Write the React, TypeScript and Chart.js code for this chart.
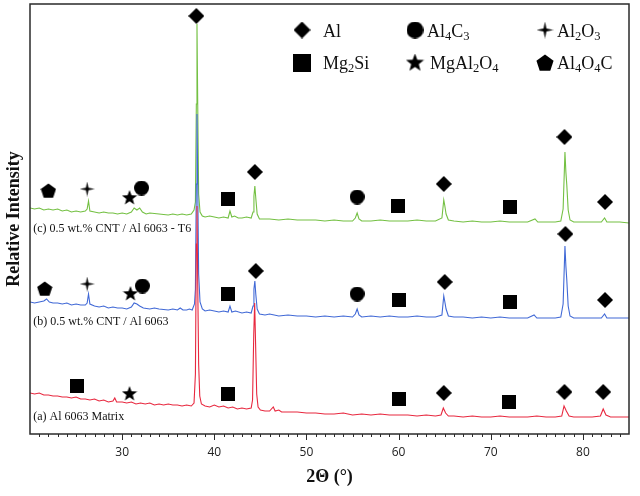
import { useEffect, useRef } from 'react'
import { Chart, registerables } from 'chart.js'

Chart.register(...registerables)

// XRD traces, [2θ, offset intensity]
const traceA: [number, number][] = [
  [20, 41], [20.5, 40], [21, 41], [21.5, 39], [22, 39], [22.5, 38], [23, 38], [23.5, 37], [24, 37], [24.5, 36],
  [25, 37], [25.5, 35], [26, 35], [26.5, 34], [27, 35], [27.5, 33], [28, 34], [28.5, 32], [29, 33], [29.2, 36],
  [29.4, 32], [30, 32], [30.5, 31], [31, 32], [31.5, 30], [32, 31], [32.5, 30], [33, 31], [33.5, 29], [34, 30],
  [34.5, 29], [35, 30], [35.5, 29], [36, 29], [36.5, 28], [37, 29], [37.5, 28], [37.8, 31], [37.95, 60], [38.05, 190],
  [38.12, 228], [38.2, 150], [38.3, 70], [38.42, 38], [38.6, 30], [39, 28], [39.5, 27], [40, 29], [40.5, 27], [41, 28],
  [41.5, 26], [42, 27], [42.5, 25], [43, 26], [43.5, 25], [44, 26], [44.15, 34], [44.28, 100], [44.38, 131], [44.48, 90],
  [44.6, 40], [44.75, 27], [45, 24], [45.5, 23], [46, 23], [46.4, 27], [46.6, 23], [47, 24], [47.3, 22], [48, 22],
  [49, 22], [50, 21], [51, 21], [52, 20], [53, 20], [54, 21], [55, 19], [56, 20], [57, 19], [58, 20],
  [59, 19], [60, 19], [61, 19], [62, 18], [63, 19], [64, 18], [64.6, 19], [64.85, 26], [65.1, 21], [65.4, 18],
  [66, 18], [67, 17], [68, 18], [69, 17], [70, 17], [71, 18], [72, 17], [73, 17], [74, 17], [75, 18],
  [76, 17], [77, 17], [77.7, 18], [77.95, 28], [78.2, 23], [78.5, 18], [79, 17], [80, 17], [81, 17], [81.9, 18],
  [82.2, 25], [82.5, 19], [83, 17], [84, 17], [85, 17],
]

const traceB: [number, number][] = [
  [20, 132], [20.5, 131], [21, 132], [21.5, 133], [21.8, 135], [22.1, 132], [22.5, 131], [23, 131], [23.5, 130], [24, 131],
  [24.5, 129], [25, 130], [25.5, 129], [26, 129], [26.2, 131], [26.35, 140], [26.5, 130], [27, 128], [27.5, 127], [28, 128],
  [28.5, 126], [29, 127], [29.5, 126], [30, 126], [30.5, 125], [31, 127], [31.3, 131], [31.6, 130], [31.9, 128], [32.3, 126],
  [33, 125], [33.5, 126], [34, 125], [35, 124], [35.5, 125], [36, 124], [36.3, 126], [36.6, 124], [37, 124], [37.3, 125],
  [37.6, 124], [37.85, 130], [37.95, 145], [38.05, 250], [38.12, 320], [38.2, 250], [38.3, 160], [38.45, 132], [38.7, 125], [39, 123],
  [39.5, 124], [40, 123], [40.5, 122], [41, 123], [41.5, 122], [41.7, 128], [41.9, 122], [42.3, 123], [43, 121], [43.5, 122],
  [44, 121], [44.2, 128], [44.3, 145], [44.4, 153], [44.5, 140], [44.65, 125], [44.9, 120], [45.5, 119], [46, 120], [47, 118],
  [48, 119], [49, 118], [50, 118], [51, 117], [52, 118], [53, 117], [54, 118], [55, 117], [55.3, 120], [55.5, 125],
  [55.7, 119], [56, 117], [57, 118], [58, 117], [59, 118], [60, 117], [61, 117], [62, 118], [63, 117], [64, 117],
  [64.7, 119], [64.9, 138], [65.0, 133], [65.15, 125], [65.4, 118], [66, 117], [67, 117], [68, 116], [69, 117], [70, 116],
  [71, 117], [72, 116], [73, 116], [74, 116], [74.7, 119], [75, 116], [76, 116], [77, 116], [77.6, 117], [77.85, 130],
  [78.05, 188], [78.15, 168], [78.25, 154], [78.4, 128], [78.6, 118], [79, 116], [80, 116], [81, 116], [82, 116], [82.35, 120],
  [82.6, 116], [83, 116], [84, 116], [85, 116],
]

const traceC: [number, number][] = [
  [20, 226], [20.5, 225], [21, 226], [21.5, 224], [22, 225], [22.5, 224], [23, 225], [23.5, 223], [24, 224], [24.5, 222],
  [25, 223], [25.5, 222], [26, 223], [26.2, 225], [26.35, 233], [26.5, 223], [27, 222], [27.5, 221], [28, 222], [28.5, 221],
  [29, 221], [29.5, 220], [30, 221], [30.5, 220], [31, 222], [31.3, 226], [31.6, 224], [31.9, 226], [32.2, 222], [32.6, 220],
  [33, 221], [34, 220], [35, 219], [35.5, 220], [36, 219], [36.5, 220], [37, 219], [37.5, 220], [37.8, 224], [37.95, 232],
  [38.05, 330], [38.12, 410], [38.2, 330], [38.3, 240], [38.45, 222], [38.7, 218], [39, 217], [39.5, 218], [40, 217], [40.5, 216],
  [41, 217], [41.5, 216], [41.7, 223], [41.9, 217], [42.2, 218], [42.6, 216], [43, 216], [43.5, 217], [44, 216], [44.2, 222],
  [44.3, 238], [44.4, 248], [44.5, 236], [44.65, 220], [44.9, 215], [45.5, 215], [46, 215], [47, 214], [48, 215], [49, 214],
  [50, 214], [51, 214], [52, 213], [53, 214], [54, 213], [55, 213], [55.3, 216], [55.5, 221], [55.7, 215], [56, 213],
  [57, 213], [58, 214], [59, 213], [60, 213], [61, 213], [62, 214], [63, 213], [64, 213], [64.7, 216], [64.9, 234],
  [65.0, 229], [65.15, 220], [65.4, 214], [66, 213], [67, 212], [68, 213], [69, 212], [70, 212], [71, 213], [72, 212],
  [73, 212], [74, 212], [74.8, 215], [75.1, 212], [76, 212], [77, 212], [77.6, 213], [77.85, 225], [78.05, 282], [78.15, 262],
  [78.25, 249], [78.4, 224], [78.6, 214], [79, 212], [80, 212], [81, 212], [82, 212], [82.35, 216], [82.6, 212], [83, 212],
  [84, 212], [85, 211],
]

// phase markers
const alMarks: [number, number][] = [
  [38.05, 418], [44.4, 262], [64.9, 250], [78.0, 297], [82.4, 232],
  [44.5, 163], [65.0, 152], [78.1, 200], [82.4, 134],
  [64.9, 41], [78.0, 42], [82.2, 42],
]
const mg2siMarks: [number, number][] = [
  [41.5, 235], [59.9, 228], [72.1, 227],
  [41.5, 140], [60.0, 134], [72.1, 132],
  [25.1, 48], [41.5, 40], [60.0, 35], [72.0, 32],
]
const al4c3Marks: [number, number][] = [[32.1, 246], [55.5, 237], [32.2, 148], [55.5, 140]]
const mgal2o4Marks: [number, number][] = [[30.8, 236], [30.9, 140], [30.8, 40]]
const al2o3Marks: [number, number][] = [[26.2, 245], [26.2, 150]]
const al4o4cMarks: [number, number][] = [[22.0, 243], [21.6, 145]]

const phaseNames = ['Al', 'Al4C3', 'Al2O3', 'Mg2Si', 'MgAl2O4', 'Al4O4C']
const sampleLabels = ['(c) 0.5 wt.% CNT / Al 6063 - T6', '(b) 0.5 wt.% CNT / Al 6063', '(a) Al 6063 Matrix']
const sampleLabelY = [202, 109, 14]

const SERIF = '"Liberation Serif", "Times New Roman", serif'

function makeSymbol(kind: string, size: number): HTMLCanvasElement {
  const c = document.createElement('canvas')
  c.width = size
  c.height = size
  const ctx = c.getContext('2d')!
  const r = size / 2
  ctx.fillStyle = '#000'
  ctx.beginPath()
  if (kind === 'diamond') {
    ctx.moveTo(r, 0)
    ctx.lineTo(size, r)
    ctx.lineTo(r, size)
    ctx.lineTo(0, r)
  } else if (kind === 'square') {
    ctx.rect(0, 0, size, size)
  } else if (kind === 'circle') {
    ctx.arc(r, r, r, 0, Math.PI * 2)
  } else if (kind === 'star' || kind === 'sparkle') {
    const n = kind === 'star' ? 5 : 4
    const inner = kind === 'star' ? r * 0.42 : r * 0.24
    for (let i = 0; i < n * 2; i++) {
      const a = -Math.PI / 2 + (i * Math.PI) / n
      const rr = i % 2 === 0 ? r : inner
      ctx.lineTo(r + rr * Math.cos(a), r + rr * Math.sin(a))
    }
  } else if (kind === 'pentagon') {
    for (let i = 0; i < 5; i++) {
      const a = -Math.PI / 2 + (i * 2 * Math.PI) / 5
      ctx.lineTo(r + r * Math.cos(a), r * 1.05 + r * Math.sin(a))
    }
  }
  ctx.closePath()
  ctx.fill()
  return c
}

function drawFormula(ctx: CanvasRenderingContext2D, text: string, x: number, y: number) {
  let cx = x
  for (const part of text.split(/(\d)/)) {
    if (!part) continue
    const sub = /\d/.test(part)
    ctx.font = sub ? `12.5px ${SERIF}` : `18px ${SERIF}`
    ctx.fillText(part, cx, sub ? y + 3 : y)
    cx += ctx.measureText(part).width
  }
}

const App = () => {
  const canvasRef = useRef<HTMLCanvasElement>(null)
  const chartRef = useRef<Chart | null>(null)

  useEffect(() => {
    document.body.style.margin = '0'
    if (!canvasRef.current) return
    if (chartRef.current) chartRef.current.destroy()

    const plotSym = {
      diamond: makeSymbol('diamond', 16),
      square: makeSymbol('square', 14),
      circle: makeSymbol('circle', 15),
      star: makeSymbol('star', 16),
      sparkle: makeSymbol('sparkle', 15),
      pentagon: makeSymbol('pentagon', 16),
    }
    const legendSym = [
      makeSymbol('diamond', 17),
      makeSymbol('circle', 17),
      makeSymbol('sparkle', 17),
      makeSymbol('square', 18),
      makeSymbol('star', 19),
      makeSymbol('pentagon', 18),
    ]

    const decor = {
      id: 'xrdDecor',
      afterDatasetsDraw(chart: Chart) {
        const { ctx, chartArea: a, scales } = chart
        const xs = scales.x
        const ys = scales.y
        ctx.save()
        // frame
        ctx.strokeStyle = '#2a2a2a'
        ctx.lineWidth = 1.5
        ctx.strokeRect(a.left, a.top, a.right - a.left, a.bottom - a.top)
        // bottom ticks, minor every degree
        ctx.lineWidth = 1
        ctx.beginPath()
        for (let v = 21; v < 85; v++) {
          const px = Math.round(xs.getPixelForValue(v)) + 0.5
          ctx.moveTo(px, a.bottom)
          ctx.lineTo(px, a.bottom + (v % 10 === 0 ? 6 : 3))
        }
        ctx.stroke()
        // sample labels
        ctx.fillStyle = '#111'
        ctx.font = `12px ${SERIF}`
        ctx.textBaseline = 'alphabetic'
        sampleLabels.forEach((t, i) => {
          ctx.fillText(t, xs.getPixelForValue(20.35), ys.getPixelForValue(sampleLabelY[i]))
        })
        ctx.restore()
      },
      afterDraw(chart: Chart) {
        const { ctx } = chart
        const symX = [302, 415, 545]
        const textX = [323, 427, 557]
        const rowY = [30, 63]
        const baseY = [37, 69]
        ctx.save()
        ctx.fillStyle = '#111'
        ctx.textBaseline = 'alphabetic'
        phaseNames.forEach((name, i) => {
          const col = i % 3
          const row = Math.floor(i / 3)
          const s = legendSym[i]
          ctx.drawImage(s, symX[col] - s.width / 2, rowY[row] - s.height / 2)
          const tx = row === 1 && col === 1 ? textX[col] + 3 : textX[col]
          drawFormula(ctx, name, tx, baseY[row])
        })
        ctx.restore()
      },
    }

    const trace = (label: string, data: [number, number][], color: string) => ({
      label,
      data,
      showLine: true,
      borderColor: color,
      backgroundColor: color,
      borderWidth: 1.1,
      pointRadius: 0,
      tension: 0,
    })
    const marks = (label: string, data: [number, number][], sym: HTMLCanvasElement) => ({
      label,
      data,
      showLine: false,
      pointStyle: sym,
      pointRadius: 8,
      backgroundColor: '#000',
      borderColor: '#000',
    })

    chartRef.current = new Chart(canvasRef.current, {
      type: 'scatter',
      data: {
        datasets: [
          marks('Al', alMarks, plotSym.diamond),
          marks('Mg2Si', mg2siMarks, plotSym.square),
          marks('Al4C3', al4c3Marks, plotSym.circle),
          marks('MgAl2O4', mgal2o4Marks, plotSym.star),
          marks('Al2O3', al2o3Marks, plotSym.sparkle),
          marks('Al4O4C', al4o4cMarks, plotSym.pentagon),
          trace(sampleLabels[2], traceA, '#e8283f'),
          trace(sampleLabels[1], traceB, '#4169d6'),
          trace(sampleLabels[0], traceC, '#74c043'),
        ] as any,
      },
      options: {
        animation: false,
        responsive: true,
        maintainAspectRatio: false,
        layout: { autoPadding: false, padding: { top: 4, right: 6, left: 0, bottom: 0 } },
        plugins: {
          legend: { display: false },
          tooltip: { enabled: false },
        },
        scales: {
          x: {
            type: 'linear',
            min: 20,
            max: 85,
            afterFit: (s: any) => { s.height = 62 },
            grid: { display: false, drawTicks: false },
            border: { display: false },
            ticks: {
              stepSize: 10,
              padding: 11,
              maxRotation: 0,
              color: '#222',
              font: { family: '"Open Sans", sans-serif', size: 12 },
              callback: (v: any) => (v % 10 === 0 && v > 20 ? String(v) : ''),
            },
            title: {
              display: true,
              text: '2Θ (°)',
              color: '#111',
              font: { family: SERIF, size: 18, weight: 'bold' },
              padding: { top: 0, bottom: 8 },
            },
          },
          y: {
            type: 'linear',
            min: 0,
            max: 430,
            afterFit: (s: any) => { s.width = 30 },
            grid: { display: false, drawTicks: false },
            border: { display: false },
            ticks: { display: false },
            title: {
              display: true,
              text: 'Relative Intensity',
              color: '#111',
              font: { family: SERIF, size: 18, weight: 'bold' },
              padding: { top: 4, bottom: 0 },
            },
          },
        },
      },
      plugins: [decor],
    })

    return () => {
      if (chartRef.current) {
        chartRef.current.destroy()
        chartRef.current = null
      }
    }
  }, [])

  return (
    <div style={{ position: 'relative', width: '640px', height: '496px' }}>
      <canvas ref={canvasRef}></canvas>
    </div>
  )
}

export default App
